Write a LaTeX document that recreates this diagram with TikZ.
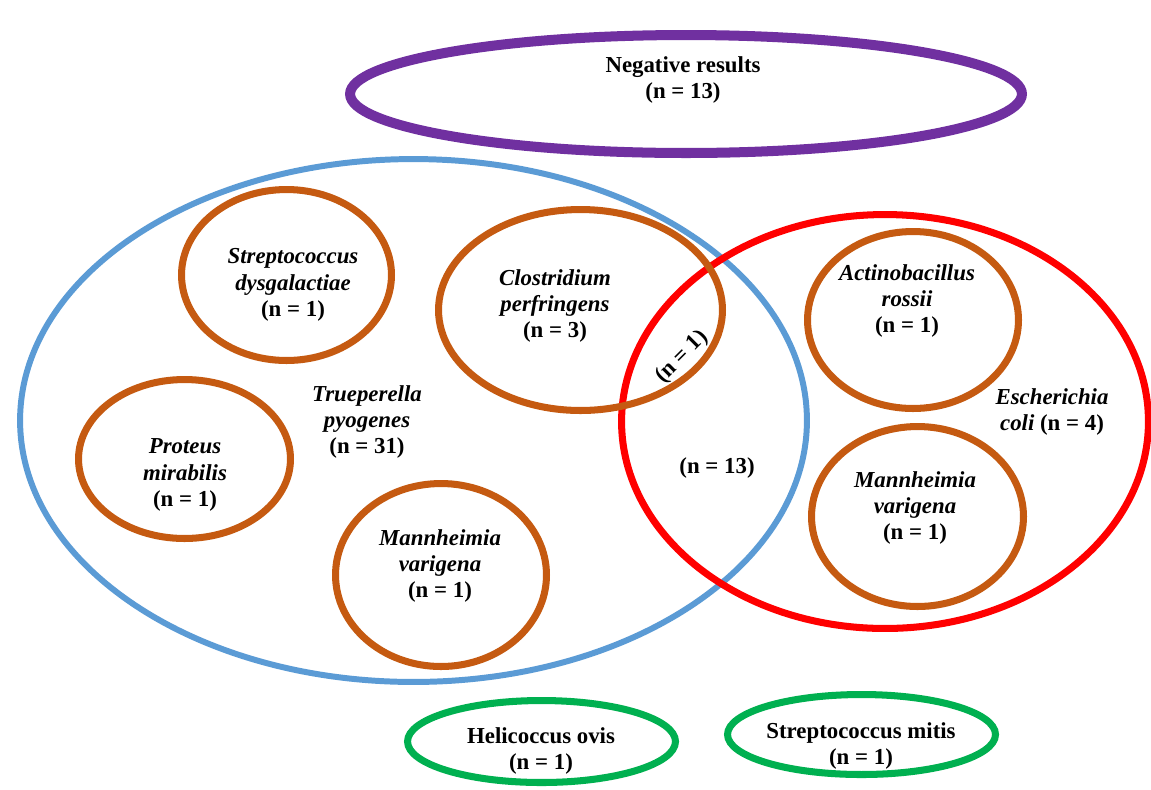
\documentclass[tikz,border=0pt]{standalone}
\usepackage{fontspec}
\setmainfont{Liberation Serif}
\usetikzlibrary{shapes.geometric}
\definecolor{negcol}{HTML}{7030A0}
\definecolor{trucol}{HTML}{5B9BD5}
\definecolor{escol}{HTML}{FF0000}
\definecolor{subcol}{HTML}{C55A11}
\definecolor{othcol}{HTML}{00B050}
\tikzset{
  ring/.style={ellipse, draw, inner sep=0pt},
  neg/.style={ring, draw=negcol, line width=5.7pt},
  tru/.style={ring, draw=trucol, line width=3.4pt},
  esc/.style={ring, draw=escol, line width=4pt},
  sub/.style={ring, draw=subcol, line width=4pt},
  oth/.style={ring, draw=othcol, line width=4pt},
  lab/.style={font=\bfseries\fontsize{13}{15}\selectfont, align=center, inner sep=0pt}
}
\begin{document}
\begin{tikzpicture}[x=0.02cm,y=-0.02cm]
\useasboundingbox (0,0) rectangle (1151,789);
% outer rings
\node[neg, minimum width=13.44cm, minimum height=2.36cm] (negR) at (686,94) {};
\node[tru, minimum width=15.74cm, minimum height=10.46cm] (truR) at (413.5,420.5) {};
\node[esc, minimum width=10.54cm, minimum height=8.28cm] (escR) at (885,421.5) {};
% inner rings
\node[sub, minimum width=4.2cm, minimum height=3.42cm] (sdyR) at (286.5,275) {};
\node[sub, minimum width=5.68cm, minimum height=4.02cm] (cloR) at (580.5,310) {};
\node[sub, minimum width=4.24cm, minimum height=3.18cm] (proR) at (184.5,459) {};
\node[sub, minimum width=4.22cm, minimum height=3.66cm] (mvaR) at (441,575) {};
\node[sub, minimum width=4.22cm, minimum height=3.54cm] (actR) at (913,320) {};
\node[sub, minimum width=4.24cm, minimum height=3.6cm] (mvbR) at (917.5,516.5) {};
% single finds
\node[oth, minimum width=5.36cm, minimum height=1.64cm] (helR) at (541.5,741.5) {};
\node[oth, minimum width=5.36cm, minimum height=1.6cm] (smiR) at (861.5,734.5) {};
% labels
\node[lab] (negT) at (683,80) {Negative results\\(n = 13)};
\node[lab] (sdyT) at (293,285) {\textit{Streptococcus}\\\textit{dysgalactiae}\\(n = 1)};
\node[lab] (cloT) at (555,306) {\textit{Clostridium}\\\textit{perfringens}\\(n = 3)};
\node[lab] (truT) at (367,422) {\textit{Trueperella}\\\textit{pyogenes}\\(n = 31)};
\node[lab] (proT) at (185,475) {\textit{Proteus}\\\textit{mirabilis}\\(n = 1)};
\node[lab] (mvaT) at (440,566) {\textit{Mannheimia}\\\textit{varigena}\\(n = 1)};
\node[lab] (actT) at (907,301) {\textit{Actinobacillus}\\\textit{rossii}\\(n = 1)};
\node[lab] (escT) at (1052,412) {\textit{Escherichia}\\\textit{coli} (n = 4)};
\node[lab] (mvbT) at (915,508) {\textit{Mannheimia}\\\textit{varigena}\\(n = 1)};
\node[lab, rotate=45] (oneT) at (682,357) {(n = 1)};
\node[lab] (bthT) at (717,468) {(n = 13)};
\node[lab] (helT) at (541,751) {Helicoccus ovis\\(n = 1)};
\node[lab] (smiT) at (861,746) {Streptococcus mitis\\(n = 1)};
\end{tikzpicture}
\end{document}
